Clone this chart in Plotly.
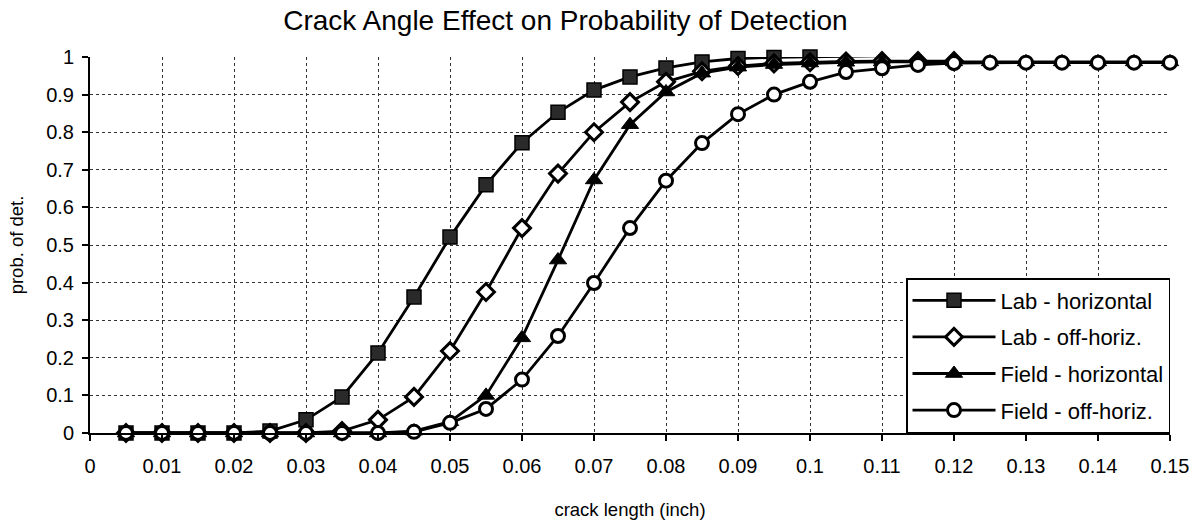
import plotly.graph_objects as go

x_main = [0.005, 0.01, 0.015, 0.02, 0.025, 0.03, 0.035, 0.04, 0.045, 0.05,
          0.055, 0.06, 0.065, 0.07, 0.075, 0.08, 0.085, 0.09, 0.095, 0.1,
          0.105, 0.11, 0.115, 0.12]
x_full = x_main + [0.125, 0.13, 0.135, 0.14, 0.145, 0.15]

lab_horizontal = [0, 0, 0, 0, 0.005, 0.035, 0.096, 0.213, 0.362, 0.521,
                  0.66, 0.772, 0.853, 0.912, 0.947, 0.971, 0.987, 0.996, 0.999, 1.0,
                  1.003, 1.004, 1.005, 1.006]
lab_off_horiz = [0, 0, 0, 0, 0, 0, 0.005, 0.035, 0.096, 0.218,
                 0.375, 0.545, 0.69, 0.80, 0.88, 0.934, 0.962, 0.976, 0.983, 0.986,
                 0.988, 0.989, 0.989, 0.989]
field_horizontal = [0, 0, 0, 0, 0, 0, 0, 0, 0.005, 0.03,
                    0.1, 0.253, 0.46, 0.673, 0.82, 0.907, 0.957, 0.973, 0.98, 0.984,
                    0.986, 0.987, 0.987, 0.987, 0.987, 0.987, 0.987, 0.987, 0.987, 0.987]
field_off_horiz = [0, 0, 0, 0, 0, 0, 0, 0, 0.003, 0.027,
                   0.064, 0.142, 0.258, 0.399, 0.545, 0.671, 0.771, 0.848, 0.90, 0.934,
                   0.96, 0.97, 0.979, 0.984, 0.985, 0.985, 0.985, 0.985, 0.985, 0.985]

names = ["Lab - horizontal", "Lab - off-horiz.", "Field - horizontal", "Field - off-horiz."]

x_ticks = [i / 100 for i in range(0, 16)]
x_tick_text = ["0", "0.01", "0.02", "0.03", "0.04", "0.05", "0.06", "0.07", "0.08",
               "0.09", "0.1", "0.11", "0.12", "0.13", "0.14", "0.15"]
y_ticks = [i / 10 for i in range(0, 11)]
y_tick_text = ["0", "0.1", "0.2", "0.3", "0.4", "0.5", "0.6", "0.7", "0.8", "0.9", "1"]

FONT = "Liberation Sans, Arial, sans-serif"

fig = go.Figure()
fig.add_trace(go.Scatter(
    x=x_main, y=lab_horizontal, name=names[0], mode="lines+markers", legendgroup="a",
    line=dict(color="black", width=2.8),
    marker=dict(symbol="square", size=14, color="#2a2a2a", line=dict(color="black", width=1.5)),
    cliponaxis=False))
fig.add_trace(go.Scatter(
    x=x_main, y=lab_off_horiz, name=names[1], mode="lines+markers", legendgroup="b",
    line=dict(color="black", width=2.8),
    marker=dict(symbol="diamond", size=13, color="white", line=dict(color="black", width=3)),
    cliponaxis=False))
fig.add_trace(go.Scatter(
    x=x_full, y=field_horizontal, name=names[2], mode="lines+markers", legendgroup="c",
    line=dict(color="black", width=2.8),
    marker=dict(symbol="triangle-up", size=15, color="black", line=dict(color="black", width=1)),
    cliponaxis=False))
fig.add_trace(go.Scatter(
    x=x_full, y=field_off_horiz, name=names[3], mode="lines+markers", legendgroup="d",
    line=dict(color="black", width=2.8),
    marker=dict(symbol="circle", size=13, color="white", line=dict(color="black", width=3)),
    cliponaxis=False))

fig.update_layout(
    width=1198, height=531,
    margin=dict(l=90, r=28, t=57, b=98),
    paper_bgcolor="white", plot_bgcolor="white",
    font=dict(family=FONT, color="black", size=18),
    title=dict(text="Crack Angle Effect on Probability of Detection",
               x=0.472, xanchor="center", y=1 - 20 / 531, yanchor="middle",
               font=dict(family=FONT, size=28, color="black")),
    legend=dict(x=1.0, xanchor="right", y=0.0, yanchor="bottom",
                bgcolor="white", bordercolor="black", borderwidth=1.5,
                font=dict(family=FONT, size=22, color="black"),
                tracegroupgap=5, itemwidth=83),
    showlegend=True,
)
fig.update_xaxes(
    range=[0, 0.15], tickvals=x_ticks, ticktext=x_tick_text,
    automargin=False,
    showline=True, linecolor="black", linewidth=2,
    ticks="outside", ticklen=6, tickcolor="black", tickwidth=1.5,
    ticklabelstandoff=8,
    showgrid=True, gridcolor="#333", griddash="dot", gridwidth=1,
    zeroline=False,
    tickfont=dict(family=FONT, size=20, color="black"),
    title=dict(text="crack length (inch)", standoff=27,
               font=dict(family=FONT, size=18.5, color="black")),
)
fig.update_yaxes(
    range=[0, 1], tickvals=y_ticks, ticktext=y_tick_text,
    automargin=False,
    showline=True, linecolor="black", linewidth=2,
    ticks="outside", ticklen=6, tickcolor="black", tickwidth=1.5,
    ticklabelstandoff=4,
    showgrid=True, gridcolor="#333", griddash="dot", gridwidth=1,
    zeroline=False,
    tickfont=dict(family=FONT, size=20, color="black"),
    title=dict(text="prob. of det.", standoff=18,
               font=dict(family=FONT, size=18.5, color="black")),
)

fig.write_html("out.html", config={"displayModeBar": False},
               post_script="document.body.style.margin='0';")
